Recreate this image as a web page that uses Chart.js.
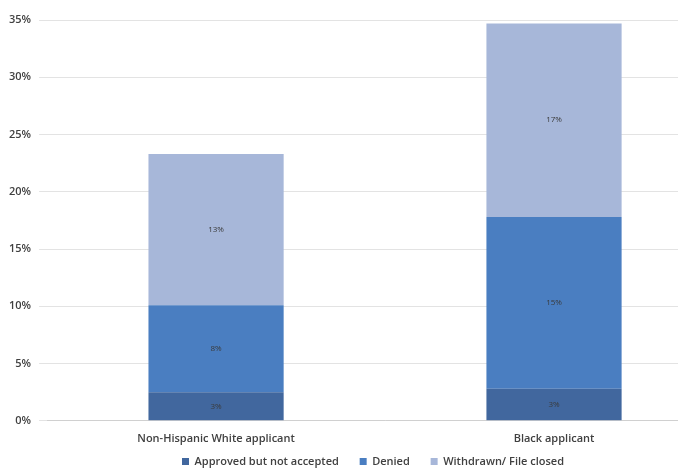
<!DOCTYPE html>
<html>
<head>
<meta charset="utf-8">
<script src="https://cdn.jsdelivr.net/npm/chart.js@4"></script>
<style>
  html, body { margin: 0; padding: 0; background: #fff; overflow: hidden; }
  #wrap { width: 786px; height: 477px; position: relative; }
</style>
</head>
<body>
<div id="wrap"><canvas id="rateChart"></canvas></div>
<script>
// Chart data
const categories = ['Non-Hispanic White applicant', 'Black applicant'];
const approvedNotAccepted = [2.5, 2.8];
const denied = [7.6, 15.0];
const withdrawn = [13.2, 16.9];
const approvedLabels = ['3%', '3%'];
const deniedLabels = ['8%', '15%'];
const withdrawnLabels = ['13%', '17%'];
const yTicks = [0, 5, 10, 15, 20, 25, 30, 35];

// small plugin to write the value labels in the middle of each segment
const segmentLabels = {
    id: 'segmentLabels',
    afterDatasetsDraw(chart) {
        const ctx = chart.ctx;
        ctx.save();
        ctx.font = '8px "Open Sans", sans-serif';
        ctx.fillStyle = '#3a3a3a';
        ctx.textAlign = 'center';
        ctx.textBaseline = 'middle';
        chart.data.datasets.forEach((ds, i) => {
            chart.getDatasetMeta(i).data.forEach((bar, j) => {
                const mid = (bar.y + bar.base) / 2;
                ctx.fillText(ds.valueLabels[j], bar.x, mid);
            });
        });
        ctx.restore();
    }
};

// nudge the legend a little to the right, like the original
const legendShift = {
    id: 'legendShift',
    afterUpdate(chart) {
        if (chart.legend) {
            chart.legend.left += 11;
            chart.legend.right += 11;
        }
    }
};

const ctx = document.getElementById('rateChart').getContext('2d');

const rateChart = new Chart(ctx, {
    type: 'bar',
    data: {
        labels: categories,
        datasets: [{
            label: 'Approved but not accepted',
            data: approvedNotAccepted,
            valueLabels: approvedLabels,
            backgroundColor: '#41679e'
        }, {
            label: 'Denied',
            data: denied,
            valueLabels: deniedLabels,
            backgroundColor: '#4a7ec1'
        }, {
            label: 'Withdrawn/ File closed',
            data: withdrawn,
            valueLabels: withdrawnLabels,
            backgroundColor: '#a7b7d9'
        }]
    },
    options: {
        responsive: true,
        maintainAspectRatio: false,
        animation: false,
        layout: {
            padding: { top: 20, right: 63, left: 1, bottom: 0 }
        },
        datasets: {
            bar: {
                categoryPercentage: 0.40,
                barPercentage: 1.0
            }
        },
        plugins: {
            legend: {
                position: 'bottom',
                labels: {
                    boxWidth: 7,
                    boxHeight: 7,
                    padding: 8,
                    color: '#404040',
                    font: { family: '"Open Sans", sans-serif', size: 11, weight: '600' },
                    generateLabels: function(chart) {
                        const items = Chart.defaults.plugins.legend.labels.generateLabels(chart);
                        // wider gaps between legend entries
                        items.forEach((item, i) => {
                            if (i < items.length - 1) item.text += '\u2003\u2009';
                        });
                        return items;
                    }
                }
            },
            tooltip: { enabled: false }
        },
        scales: {
            x: {
                stacked: true,
                grid: { display: false },
                border: { color: '#d0d0d0' },
                ticks: {
                    color: '#404040',
                    padding: 3,
                    font: { family: '"Open Sans", sans-serif', size: 11, weight: '600' }
                }
            },
            y: {
                stacked: true,
                min: 0,
                max: 35,
                afterBuildTicks(axis) {
                    axis.ticks = yTicks.map(v => ({ value: v }));
                },
                grid: { color: '#e3e3e3' },
                border: { display: false },
                ticks: {
                    color: '#404040',
                    padding: 8,
                    font: { family: '"Open Sans", sans-serif', size: 11, weight: '600' },
                    callback: function(value) {
                        return value + '%';
                    }
                }
            }
        }
    },
    plugins: [segmentLabels, legendShift]
});
</script>
</body>
</html>
